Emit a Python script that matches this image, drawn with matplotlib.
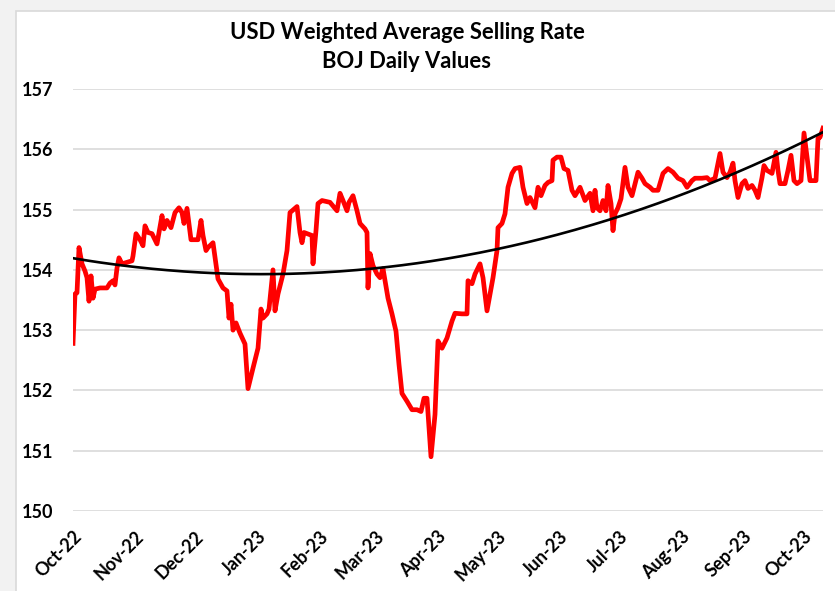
import numpy as np
import pandas as pd
import matplotlib
matplotlib.use("Agg")
import matplotlib.pyplot as plt
import matplotlib.dates as mdates
from matplotlib.patches import Rectangle

plt.rcParams['font.family'] = ['Lato', 'DejaVu Sans']

start = pd.Timestamp("2022-10-01")

# days since 1 Oct 2022
day = [0, 1, 2, 3, 4.5, 6, 7, 8, 9, 10, 11, 13.5, 17, 18.5, 20, 21, 22, 23, 24.5, 29.5,
       30, 31.5, 33.5, 35, 36, 37.5, 39.5, 42, 44.5, 45.5, 47, 49, 51, 53, 54.5, 55.5, 57, 59, 62.5, 64,
       65, 66.5, 67.5, 70, 72.5, 75, 77, 78, 79, 80, 81.5, 83.5, 86, 87.5, 90, 92.5, 94, 95, 97, 98,
       100, 101, 102.5, 105, 107, 108.5, 112, 113.5, 114.5, 115.5, 119.5, 120, 121.5, 122.5, 124.5, 128.5, 132, 133.5, 135, 137,
       138, 140, 142, 143.5, 146, 147, 147.5, 148.5, 150, 152, 153.5, 155, 156, 157.5, 159.5, 161.5, 163, 164.5, 167, 169.5,
       172, 174, 175.5, 177, 179, 181, 182.5, 184.5, 187, 189.5, 191, 194.5, 197, 197.5, 199.5, 201, 203.5, 205, 207, 208.5,
       210, 212, 212.5, 214.5, 216, 217.5, 219.5, 221, 223.5, 225, 227, 228.5, 231, 232.5, 234, 236, 237.5, 239.5, 240, 242,
       244, 245.5, 247.5, 249.5, 251, 253.5, 256, 258.5, 260, 261, 262, 263.5, 265, 266.5, 267.5, 269, 270, 271, 272.5, 274,
       276, 277.5, 279.5, 282.5, 284.5, 286, 288.5, 290, 292.5, 295, 297.5, 300, 302.5, 305, 307, 309.5, 311, 314.5, 317, 318.5,
       321, 323.5, 325, 327, 328.5, 330, 331, 332.5, 334.5, 336, 337.5, 339.5, 341, 342.5, 344.5, 345.5, 347, 349.5, 351.5, 352.5,
       353.5, 356, 357.5, 359, 360.5, 362, 364, 365.5, 368.5, 371.5, 372.5, 373.5, 375]

rate = [152.78, 153.6, 153.62, 154.37, 154.1, 153.98, 153.87, 153.48, 153.9, 153.53, 153.68, 153.7, 153.7, 153.78, 153.82, 153.75, 154.03, 154.2, 154.1, 154.15,
        154.23, 154.6, 154.5, 154.4, 154.73, 154.62, 154.6, 154.43, 154.9, 154.68, 154.82, 154.7, 154.95, 155.03, 154.95, 154.77, 155.02, 154.5, 154.5, 154.82,
        154.57, 154.32, 154.37, 154.45, 153.85, 153.7, 153.65, 153.2, 153.43, 153.0, 153.12, 152.95, 152.77, 152.03, 152.37, 152.7, 153.35, 153.2, 153.27, 153.35,
        154.0, 153.32, 153.6, 153.93, 154.32, 154.95, 155.05, 154.62, 154.45, 154.62, 154.57, 154.1, 154.65, 155.1, 155.15, 155.12, 154.98, 155.27, 155.15, 154.98,
        155.12, 155.23, 154.98, 154.77, 154.68, 154.62, 153.7, 154.27, 154.07, 153.93, 153.87, 154.02, 153.82, 153.53, 153.27, 152.98, 152.43, 151.95, 151.82, 151.68,
        151.68, 151.65, 151.87, 151.87, 150.9, 151.6, 152.82, 152.7, 152.87, 153.15, 153.28, 153.27, 153.27, 153.82, 153.77, 153.93, 154.1, 153.87, 153.32, 153.6,
        153.87, 154.32, 154.7, 154.77, 154.93, 155.37, 155.6, 155.68, 155.7, 155.37, 155.1, 155.2, 155.03, 155.37, 155.23, 155.4, 155.45, 155.48, 155.82, 155.87,
        155.87, 155.68, 155.65, 155.32, 155.23, 155.37, 155.15, 155.27, 154.98, 155.32, 155.03, 154.98, 155.15, 154.98, 155.4, 155.1, 154.65, 154.93, 155.03, 155.18,
        155.7, 155.37, 155.23, 155.62, 155.52, 155.43, 155.37, 155.32, 155.32, 155.6, 155.68, 155.62, 155.52, 155.48, 155.37, 155.48, 155.52, 155.52, 155.53, 155.48,
        155.52, 155.93, 155.62, 155.53, 155.62, 155.77, 155.48, 155.2, 155.43, 155.48, 155.35, 155.4, 155.32, 155.2, 155.53, 155.73, 155.65, 155.6, 155.95, 155.65,
        155.43, 155.43, 155.65, 155.9, 155.48, 155.43, 155.48, 156.27, 155.48, 155.48, 156.18, 156.2, 156.35]

y_ticks = [150, 151, 152, 153, 154, 155, 156, 157]

day = np.array(day)
rate = np.array(rate)
dates = start + pd.to_timedelta(day, unit="D")

# 2nd order trend, weighted by point spacing since the trace is uneven
w = np.sqrt(np.gradient(day))
coef = np.polyfit(day, rate, 2, w=w)
trend = np.polyval(coef, day)

W, H = 835, 591
fig = plt.figure(figsize=(W / 100, H / 100), dpi=100)
fig.patch.set_facecolor("#f2f2f2")
# white chart panel, cut off at the right and bottom like the source
fig.patches.append(Rectangle((16 / W, -0.1), 1.2, 1 - 11 / H + 0.1, transform=fig.transFigure,
                             facecolor="white", edgecolor="#d9d9d9", linewidth=1.2, zorder=-5))

ax = fig.add_axes([73 / W, (H - 511) / H, 750 / W, 422 / H])
ax.set_facecolor("none")
ax.plot(dates, rate, color="#ff0000", linewidth=3.4, solid_joinstyle="round", zorder=3)
ax.plot(dates, trend, color="black", linewidth=1.9, zorder=4)

ax.set_ylim(150, 157)
ax.set_yticks(y_ticks)
ax.set_xlim(start, dates[-1])
ax.xaxis.set_major_locator(mdates.MonthLocator())
ax.xaxis.set_major_formatter(mdates.DateFormatter("%b-%y"))
ax.grid(axis="y", color="#d9d9d9", linewidth=1.2)
ax.set_axisbelow(True)
for s in ax.spines.values():
    s.set_visible(False)
ax.tick_params(axis="both", length=0, labelsize=13)
ax.tick_params(axis="y", pad=14)
ax.tick_params(axis="x", pad=12)
for lab in ax.get_yticklabels():
    lab.set_fontweight("bold")
for lab in ax.get_xticklabels():
    lab.set_fontweight("bold")
    lab.set_rotation(45)
    lab.set_ha("right")
    lab.set_va("top")
    lab.set_rotation_mode("anchor")

fig.text(407 / W, 1 - 47 / H, "USD Weighted Average Selling Rate\nBOJ Daily Values",
         ha="center", va="center", fontsize=15.8, fontweight="bold", linespacing=1.5)

fig.savefig("out.png", dpi=100, facecolor=fig.get_facecolor())
